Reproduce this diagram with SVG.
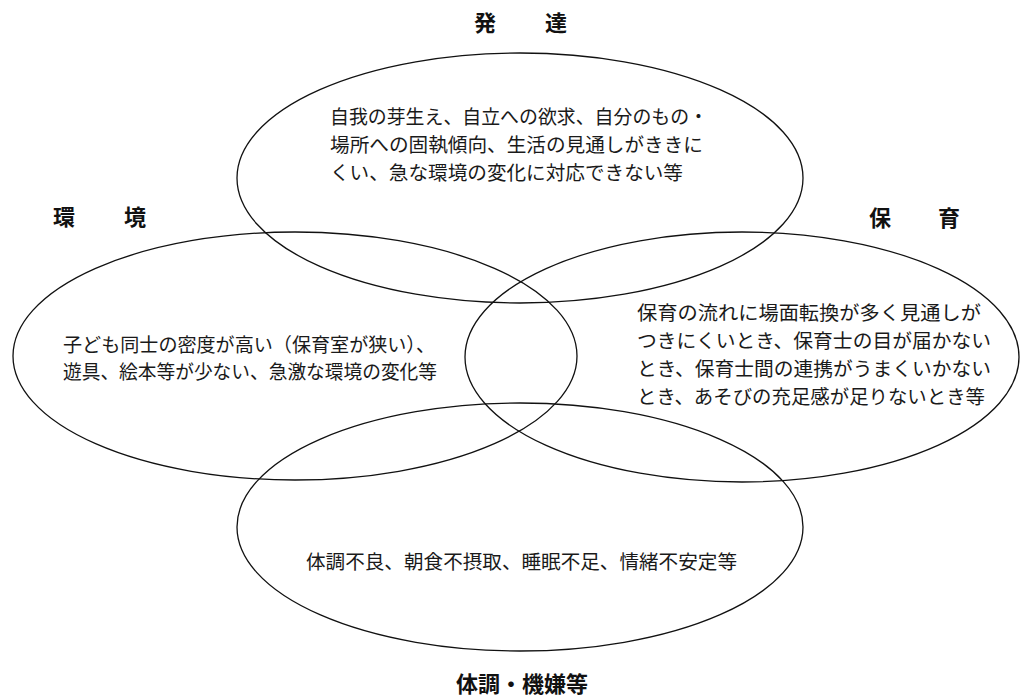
<svg xmlns="http://www.w3.org/2000/svg" width="1024" height="699" viewBox="0 0 1024 699">
<style>
.bg{fill:#ffffff}
.ring{fill:none;stroke:#111111;stroke-width:1.3}
.body{font-family:"Noto Sans CJK JP","Noto Sans CJK SC",sans-serif;font-size:19.5px;fill:#1a1a1a}
.title{font-family:"Noto Sans CJK JP","Noto Sans CJK SC",sans-serif;font-size:22px;font-weight:bold;fill:#111111;text-anchor:middle}
</style>
<rect class="bg" x="0" y="0" width="1024" height="699"/>
<g id="development">
<ellipse class="ring" cx="520" cy="178" rx="283" ry="125"/>
<text class="title" x="485" y="31">発</text>
<text class="title" x="556" y="31">達</text>
<text class="body" x="330" y="124" textLength="378" lengthAdjust="spacingAndGlyphs">自我の芽生え、自立への欲求、自分のもの・</text>
<text class="body" x="330" y="152" textLength="373" lengthAdjust="spacingAndGlyphs">場所への固執傾向、生活の見通しがききに</text>
<text class="body" x="330" y="180" textLength="353" lengthAdjust="spacingAndGlyphs">くい、急な環境の変化に対応できない等</text>
</g>
<g id="environment">
<ellipse class="ring" cx="295" cy="356" rx="282" ry="124"/>
<text class="title" x="64" y="225">環</text>
<text class="title" x="135" y="225">境</text>
<text class="body" x="63" y="352" textLength="372" lengthAdjust="spacingAndGlyphs">子ども同士の密度が高い（保育室が狭い）、</text>
<text class="body" x="63" y="379" textLength="374" lengthAdjust="spacingAndGlyphs">遊具、絵本等が少ない、急激な環境の変化等</text>
</g>
<g id="childcare">
<ellipse class="ring" cx="742" cy="357" rx="277" ry="125"/>
<text class="title" x="880" y="226">保</text>
<text class="title" x="949" y="226">育</text>
<text class="body" x="637" y="320" textLength="344" lengthAdjust="spacingAndGlyphs">保育の流れに場面転換が多く見通しが</text>
<text class="body" x="637" y="348" textLength="354" lengthAdjust="spacingAndGlyphs">つきにくいとき、保育士の目が届かない</text>
<text class="body" x="637" y="376" textLength="354" lengthAdjust="spacingAndGlyphs">とき、保育士間の連携がうまくいかない</text>
<text class="body" x="637" y="404" textLength="348" lengthAdjust="spacingAndGlyphs">とき、あそびの充足感が足りないとき等</text>
</g>
<g id="condition">
<ellipse class="ring" cx="520" cy="527" rx="283" ry="124"/>
<text class="body" x="306" y="569" textLength="431" lengthAdjust="spacingAndGlyphs">体調不良、朝食不摂取、睡眠不足、情緒不安定等</text>
<text class="title" x="522" y="692">体調・機嫌等</text>
</g>
</svg>
